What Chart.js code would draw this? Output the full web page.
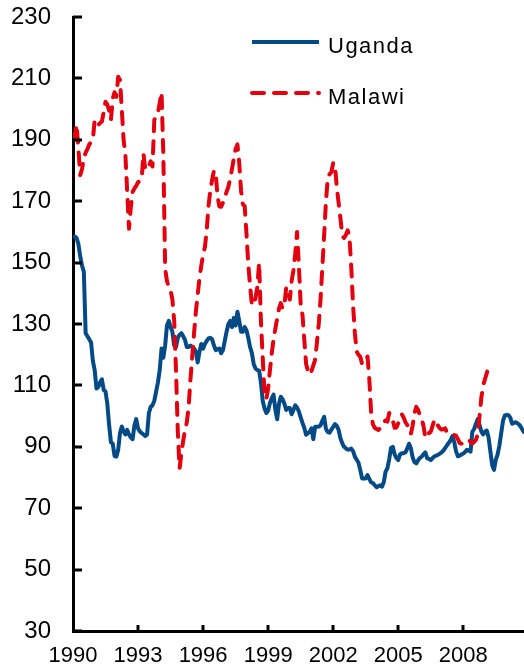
<!DOCTYPE html>
<html><head><meta charset="utf-8">
<script src="https://cdn.jsdelivr.net/npm/chart.js@4.4.1/dist/chart.umd.min.js"></script>
<style>html,body{margin:0;padding:0;background:#fff;overflow:hidden}</style>
</head><body>
<canvas id="c" width="524" height="669"></canvas>
<script>
// Monthly series starting January 1990
const startYear = 1990;
const seriesNames = ['Uganda', 'Malawi'];
const uganda = [
  158,158.5,158,156,152,149,147,127,126,125,124,118,
  115,109,109.5,111,112,108.5,108,104,97,91.5,91,87,
  86.8,89,94.4,96.6,95,94,95.5,94,93,92.5,97,99,
  96,95,94.5,94,93.5,94,101,103,103.5,105,108,111,
  115,122,119,123,129.5,131,129,127.5,123,122.5,125.5,126.5,
  127,126,124.8,122.5,122.5,123,122.5,122,121,117.5,121,123.5,
  122,123.5,124.5,125.3,125.5,125,123,121.5,121.8,122,120.5,121.5,
  124.5,127.5,130,131,129,132,129.5,134,131,127.5,127.5,129,
  128,125.5,122.5,120.5,117,115.5,115,114.8,111,105,102.5,101,
  101.8,104.3,105.8,107,102,99,104,106.3,105.5,104,102,102.6,
  102.6,100.6,102,103.5,102.8,101.5,99.6,97.8,96.2,93.9,94.4,94.9,
  96,92.5,96.5,96.5,96.6,97,98.5,99.8,95.8,94.8,94.6,95.6,
  96.5,97.4,96.8,95.5,92.8,91.2,90,89.5,89.1,89.1,89.4,88.6,
  86.8,85.8,84.8,82.4,79.7,79.7,79.7,80.8,79.5,78.4,78.2,77.5,
  76.8,77.2,77.5,77,78.5,81.9,83,86,89.6,90,87.5,86.3,
  85.7,87.5,87.9,87.9,88.2,89.5,91,89.5,86.5,85,84.6,85.6,
  86.4,86.8,87.6,88.2,86.3,86,85.7,86.3,86.9,87.1,87.4,87.8,
  88.2,88.8,89.6,90.5,91.3,92.2,93.5,91.5,88.5,86.9,87.1,87.5,
  87.8,88.3,89,88.8,88.4,94.9,95.8,97.5,99,97.1,95,94,
  94.9,95.3,93,88.5,84,82.5,85.8,87.5,90.5,94.5,98.5,100.2,
  100.4,100.3,99.5,97.5,97.8,98,97.7,97.2,96.3,95.3,94.5
];
const malawi = [
  190,191.6,195,187,178.5,180.5,184,185.8,187,188.5,189.2,190,
  196.5,195.5,194.8,195.5,196,199,202.4,201.5,199.5,196.5,203.5,205.5,
  204,210.5,209.5,200,190,185,173,161,168,173,174.2,175,
  176.2,176.6,177,185.6,180.2,180.8,181.5,183,181.3,196.5,197.5,198.8,
  202,205.5,185,148,144,142,141,138,131,115,95,83,
  88,92,95.5,98,103,112,119.5,127,134,139.5,145,149,
  152.8,155,160.5,168.5,173.5,177,180,179,171.5,168.3,168.2,169.5,
  171.2,173,174.7,177.5,180.5,184,187,188.5,182.5,173.5,169,168.4,
  159.5,149.5,142.5,136.2,136.2,138.5,142,150,131,119,107,105.5,
  109,115,120.5,125,128.5,131.8,135,136.8,135,136,142,140.5,
  138,144,147.5,153,160,149,136.5,133,125,117,114.8,116,
  114.7,116.5,118.3,124,130,138,148.5,159,170,177.5,178.8,179.5,
  182.5,181.5,174.5,169.5,164.5,159,158,159,160.5,158.5,148.5,136,
  127,121,120,119.3,117,117.2,118.5,119.4,112,101,97.3,96.2,
  95.8,95.5,96,97,98,98.6,98.2,101,100,98.5,96.2,96.3,
  97.7,99.6,100.6,99.5,98,97.1,95.2,94.2,97,101,103,102,
  100.2,99.2,96.7,93,93,94.5,94.9,96.8,98.8,98.5,96.9,96,
  95.6,95.7,96,94.6,94.4,94.4,94,93.8,93.6,92.5,91.2,91,
  91.7,91.7,91.8,92.2,91.6,91.1,91.6,92.3,94,100,106,110,
  112,114,116
];
const xTicks = [1990, 1993, 1996, 1999, 2002, 2005, 2008];
const yTicks = [30, 50, 70, 90, 110, 130, 150, 170, 190, 210, 230];

const BLUE = '#034A86';
const RED = '#E3000F';
const FONT = "'Liberation Sans', Arial, sans-serif";

const toPoints = arr => arr.map((v, i) => ({ x: startYear + i / 12, y: v }));

const innerTicks = {
  id: 'innerTicks',
  afterDatasetsDraw(chart) {
    const { ctx, chartArea, scales: { x, y } } = chart;
    ctx.save();
    ctx.strokeStyle = '#000';
    ctx.lineWidth = 3;
    xTicks.forEach(v => {
      if (v === xTicks[0]) return;
      const px = Math.round(x.getPixelForValue(v));
      ctx.beginPath();
      ctx.moveTo(px, chartArea.bottom);
      ctx.lineTo(px, chartArea.bottom - 6);
      ctx.stroke();
    });
    yTicks.forEach(v => {
      const py = Math.round(y.getPixelForValue(v));
      ctx.beginPath();
      ctx.moveTo(chartArea.left, py);
      ctx.lineTo(chartArea.left + 9, py);
      ctx.stroke();
    });
    ctx.restore();
  }
};

const customLegend = {
  id: 'customLegend',
  afterDraw(chart) {
    const { ctx } = chart;
    const items = chart.data.datasets;
    const rows = [42, 93];
    ctx.save();
    items.slice().sort((a, b) => seriesNames.indexOf(a.label) - seriesNames.indexOf(b.label)).forEach((ds, i) => {
      const yy = rows[i];
      ctx.strokeStyle = ds.borderColor;
      ctx.lineWidth = ds.borderWidth;
      ctx.lineCap = ds.borderCapStyle || 'butt';
      ctx.setLineDash(ds.borderDash || []);
      ctx.beginPath();
      ctx.moveTo(252, yy);
      ctx.lineTo(319, yy);
      ctx.stroke();
      ctx.setLineDash([]);
      ctx.fillStyle = '#000';
      ctx.font = '22px ' + FONT;
      ctx.textBaseline = 'alphabetic';
      ctx.textAlign = 'left';
      if ('letterSpacing' in ctx) ctx.letterSpacing = '1.5px';
      ctx.fillText(ds.label, 328, yy + 11);
      if ('letterSpacing' in ctx) ctx.letterSpacing = '0px';
    });
    ctx.restore();
  }
};

new Chart(document.getElementById('c'), {
  type: 'line',
  data: {
    datasets: [
      {
        label: seriesNames[0],
        data: toPoints(uganda),
        borderColor: BLUE,
        borderWidth: 4,
        pointRadius: 0,
        tension: 0,
        fill: false,
        order: 1,
        borderJoinStyle: 'round'
      },
      {
        label: seriesNames[1],
        data: toPoints(malawi),
        borderColor: RED,
        borderWidth: 4,
        borderDash: [12, 10],
        borderCapStyle: 'round',
        borderJoinStyle: 'round',
        pointRadius: 0,
        tension: 0,
        fill: false,
        order: 0
      }
    ]
  },
  options: {
    responsive: false,
    devicePixelRatio: 1,
    animation: false,
    layout: { padding: { top: 17, right: 0, left: 0, bottom: 0 } },
    plugins: { legend: { display: false }, tooltip: { enabled: false } },
    scales: {
      x: {
        type: 'linear',
        min: 1990,
        max: 2010.8,
        afterBuildTicks: s => { s.ticks = xTicks.map(v => ({ value: v })); },
        afterFit: s => { s.height = 38; s.paddingLeft = 0; s.paddingRight = 0; },
        ticks: {
          color: '#000',
          font: { family: FONT, size: 22 },
          padding: 12,
          maxRotation: 0,
          autoSkip: false,
          callback: v => String(v)
        },
        grid: { display: true, drawOnChartArea: false, drawTicks: false },
        border: { display: true, color: '#000', width: 3 }
      },
      y: {
        min: 30,
        max: 230,
        afterBuildTicks: s => { s.ticks = yTicks.map(v => ({ value: v })); },
        afterFit: s => { s.width = 73; s.paddingTop = 0; s.paddingBottom = 0; },
        ticks: {
          color: '#000',
          font: { family: FONT, size: 24 },
          padding: 22,
          callback: v => String(v)
        },
        grid: { display: true, drawOnChartArea: false, drawTicks: false },
        border: { display: true, color: '#000', width: 3 }
      }
    }
  },
  plugins: [innerTicks, customLegend]
});
</script>
</body></html>
